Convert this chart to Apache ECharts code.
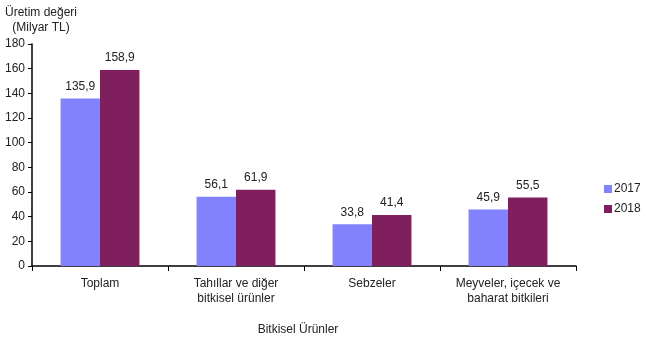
<!DOCTYPE html>
<html><head><meta charset="utf-8">
<script src="https://cdn.jsdelivr.net/npm/echarts@6/dist/echarts.min.js"></script>
<style>html,body{margin:0;padding:0;background:#fff}#c{width:650px;height:360px}</style>
</head><body><div id="c"></div>
<script>
const categories = ['Toplam', 'Tahıllar ve diğer\nbitkisel ürünler', 'Sebzeler', 'Meyveler, içecek ve\nbaharat bitkileri'];
const values2017 = [135.9, 56.1, 33.8, 45.9];
const values2018 = [158.9, 61.9, 41.4, 55.5];
const seriesNames = ['2017', '2018'];
const yTicks = [0, 20, 40, 60, 80, 100, 120, 140, 160, 180];

const chart = echarts.init(document.getElementById('c'), null, {renderer: 'canvas'});
const font = 'Liberation Sans, Arial, sans-serif';
const lbl = {show: true, position: 'top', distance: 6, color: '#222', fontFamily: font, fontSize: 12,
  formatter: p => String(p.value).replace('.', ',')};
chart.setOption({
  animation: false,
  textStyle: {fontFamily: font},
  grid: {left: 32, right: 74, top: 44, bottom: 94, containLabel: false, outerBoundsMode: 'none'},
  legend: {
    orient: 'vertical', left: 599, top: 178, itemWidth: 8, itemHeight: 8, itemGap: 8,
    icon: 'rect', textStyle: {fontFamily: font, fontSize: 12, color: '#222', padding: [0, 0, 0, -3]},
    data: seriesNames
  },
  xAxis: {
    type: 'category', data: categories, name: 'Bitkisel Ürünler', nameLocation: 'middle', nameGap: 58,
    nameTextStyle: {fontFamily: font, fontSize: 12, color: '#222', padding: [0, 12, 0, 0]},
    axisLine: {lineStyle: {color: '#000', width: 1.5}},
    axisTick: {show: true, length: 5, lineStyle: {color: '#000'}},
    axisLabel: {color: '#222', fontSize: 12, fontFamily: font, margin: 10, lineHeight: 15, interval: 0}
  },
  yAxis: {
    type: 'value', min: yTicks[0], max: yTicks[yTicks.length - 1], interval: 20,
    name: 'Üretim değeri\n(Milyar TL)', nameLocation: 'end', nameGap: 9,
    nameTextStyle: {fontFamily: font, fontSize: 12, color: '#222', align: 'center', padding: [0, 0, 0, 18], lineHeight: 15},
    axisLine: {show: true, lineStyle: {color: '#000', width: 1.5}},
    axisTick: {show: true, length: 4, lineStyle: {color: '#000'}},
    splitLine: {show: false},
    axisLabel: {color: '#222', fontSize: 12, fontFamily: font, margin: 7}
  },
  series: [
    {name: seriesNames[0], type: 'bar', data: values2017, barGap: '0%', barCategoryGap: '42%',
     itemStyle: {color: '#8282FF'}, label: lbl},
    {name: seriesNames[1], type: 'bar', data: values2018,
     itemStyle: {color: '#7F1F5E'}, label: lbl}
  ]
});
</script></body></html>
